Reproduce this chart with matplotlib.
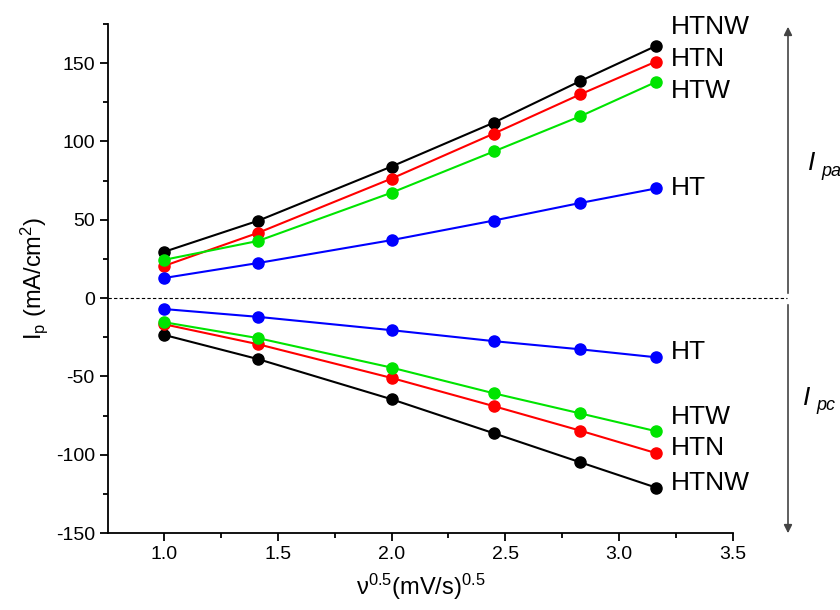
import matplotlib
matplotlib.use('Agg')
import matplotlib.pyplot as plt
from matplotlib.ticker import MultipleLocator

plt.rcParams['font.family'] = ['Liberation Sans', 'DejaVu Sans']
plt.rcParams['mathtext.fontset'] = 'custom'
plt.rcParams['mathtext.rm'] = 'Liberation Sans'
plt.rcParams['mathtext.it'] = 'Liberation Sans:italic'
plt.rcParams['axes.unicode_minus'] = False

# square root of scan rate
x = [1.0, 1.414, 2.0, 2.449, 2.828, 3.162]

# anodic peak currents
pa_htnw = [29.5, 49.4, 84.0, 112.0, 138.5, 161.0]
pa_htn = [20.5, 41.7, 76.3, 105.0, 130.0, 151.0]
pa_htw = [24.4, 36.5, 67.3, 93.6, 116.0, 138.0]
pa_ht = [12.8, 22.4, 37.0, 49.5, 60.7, 70.0]

# cathodic peak currents
pc_ht = [-7.0, -12.0, -20.5, -27.5, -32.7, -37.8]
pc_htw = [-15.4, -25.6, -44.4, -60.8, -73.6, -85.0]
pc_htn = [-16.7, -29.5, -51.0, -69.0, -84.6, -99.0]
pc_htnw = [-23.5, -39.0, -64.6, -86.3, -104.8, -121.0]

names = ['HTNW', 'HTN', 'HTW', 'HT']
colors = ['black', '#ff0000', '#00e400', '#0000ff']
upper = [pa_htnw, pa_htn, pa_htw, pa_ht]
lower = [pc_htnw, pc_htn, pc_htw, pc_ht]
# where the curve names sit (y in data units)
upper_label_y = [173, 152.5, 132, 70]
lower_label_y = [-118, -96, -76, -34.6]

fig = plt.figure(figsize=(8.4, 6.1), dpi=100)
ax = fig.add_axes([0.1286, 0.1262, 0.744, 0.8345])

for c, up, lo in zip(colors, upper, lower):
    ax.plot(x, up, '-o', color=c, lw=1.5, markersize=8, zorder=3)
    ax.plot(x, lo, '-o', color=c, lw=1.5, markersize=8, zorder=3)

for n, yu, yl in zip(names, upper_label_y, lower_label_y):
    ax.text(x[-1] + 0.065, yu, n, fontsize=19, va='center', ha='left')
    ax.text(x[-1] + 0.065, yl, n, fontsize=19, va='center', ha='left')

ax.axhline(0, xmin=0, xmax=1.086, color='black', lw=0.8,
           linestyle=(0, (3, 2)), clip_on=False, zorder=1)

ax.set_xlim(0.754, 3.5)
ax.set_ylim(-150, 175)
ax.xaxis.set_major_locator(MultipleLocator(0.5))
ax.xaxis.set_minor_locator(MultipleLocator(0.25))
ax.yaxis.set_major_locator(MultipleLocator(50))
ax.yaxis.set_minor_locator(MultipleLocator(25))
ax.set_yticks([-150, -100, -50, 0, 50, 100, 150])
ax.set_xticks([1.0, 1.5, 2.0, 2.5, 3.0, 3.5])
ax.spines['top'].set_visible(False)
ax.spines['right'].set_visible(False)
ax.spines['left'].set_linewidth(1.3)
ax.spines['bottom'].set_linewidth(1.3)
ax.tick_params(axis='both', which='major', direction='out', length=6,
               width=1.3, labelsize=14)
ax.tick_params(axis='both', which='minor', direction='out', length=3.5,
               width=1.3)

ax.set_ylabel(r'I$_\mathregular{p}$ (mA/cm$^\mathregular{2}$)', fontsize=17, labelpad=4)
ax.set_xlabel(r'ν$^\mathregular{0.5}$(mV/s)$^\mathregular{0.5}$', fontsize=17, labelpad=6)

# peak direction arrows on the right
fig.add_artist(matplotlib.patches.FancyArrowPatch(
    (788 / 840, 1 - 296 / 610), (788 / 840, 1 - 24 / 610),
    transform=fig.transFigure, arrowstyle='-|>', mutation_scale=12,
    color='#444444', lw=1.2))
fig.add_artist(matplotlib.patches.FancyArrowPatch(
    (788 / 840, 1 - 302 / 610), (788 / 840, 1 - 536 / 610),
    transform=fig.transFigure, arrowstyle='-|>', mutation_scale=12,
    color='#444444', lw=1.2))

fig.text(808 / 840, 1 - 163 / 610, 'I', fontsize=19, style='italic',
         ha='left', va='center')
fig.text(821 / 840, 1 - 171 / 610, 'pa', fontsize=13, style='italic',
         ha='left', va='center')
fig.text(803 / 840, 1 - 398 / 610, 'I', fontsize=19, style='italic',
         ha='left', va='center')
fig.text(816 / 840, 1 - 406 / 610, 'pc', fontsize=13, style='italic',
         ha='left', va='center')

plt.savefig('out.png', dpi=100, facecolor='white')
